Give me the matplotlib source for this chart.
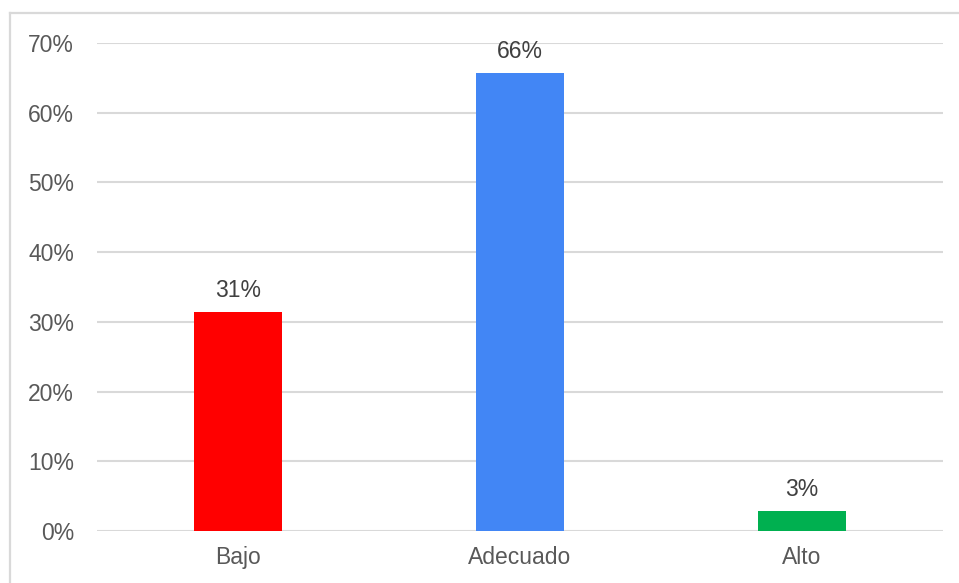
import matplotlib
matplotlib.use("Agg")
import matplotlib.pyplot as plt
from matplotlib.lines import Line2D
from matplotlib.ticker import FuncFormatter

categories = ["Bajo", "Adecuado", "Alto"]
values = [0.314, 0.657, 0.029]
colors = ["#FF0000", "#4286F5", "#00B050"]
yticks = [0, 0.1, 0.2, 0.3, 0.4, 0.5, 0.6, 0.7]

plt.rcParams["font.family"] = ["Liberation Sans", "DejaVu Sans"]
W, H = 959, 583
fig = plt.figure(figsize=(W / 100, H / 100), dpi=100)
fig.patch.set_facecolor("white")

# chart frame: top and left edges (the others run past the canvas)
frame_kw = dict(transform=fig.transFigure, color="#D9D9D9", linewidth=1.6)
fig.lines.append(Line2D([10 / W, 1.0], [(H - 13) / H] * 2, **frame_kw))
fig.lines.append(Line2D([10 / W] * 2, [0, (H - 13) / H], **frame_kw))

ax = fig.add_axes([97 / W, (H - 531) / H, (943 - 97) / W, (531 - 43) / H])
x = range(len(categories))
ax.bar(x, values, width=0.31, color=colors, zorder=3)
ax.set_xlim(-0.5, 2.5)
ax.set_ylim(0, 0.7)
ax.set_yticks(yticks)
ax.yaxis.set_major_formatter(FuncFormatter(lambda v, p: f"{v * 100:.0f}%"))
ax.set_xticks(list(x))
ax.set_xticklabels(categories)
ax.grid(axis="y", color="#D9D9D9", linewidth=1.5, zorder=0)
for s in ax.spines.values():
    s.set_visible(False)
ax.tick_params(axis="both", length=0, labelsize=16.5, colors="#595959")
ax.tick_params(axis="y", pad=16.5)
ax.tick_params(axis="x", pad=10.5)

for xi, v in zip(x, values):
    ax.annotate(f"{v * 100:.0f}%", (xi, v), xytext=(0, 11), textcoords="offset points",
                ha="center", va="baseline", fontsize=16.5, color="#404040")

fig.savefig("out.png", dpi=100)
